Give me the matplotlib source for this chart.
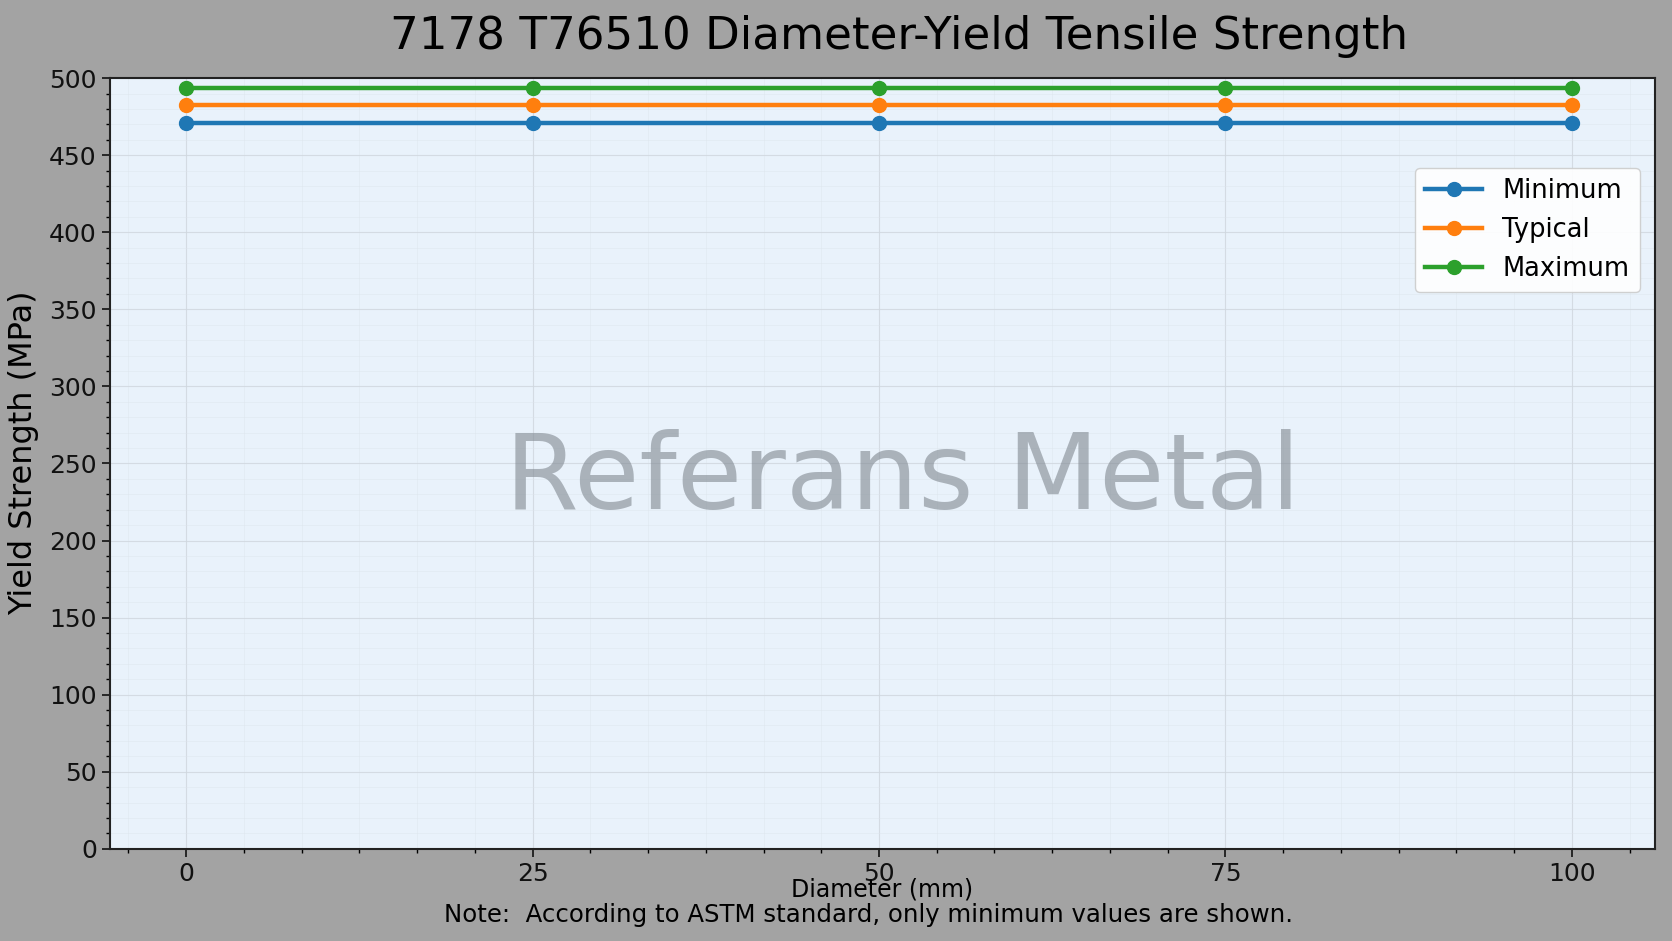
import matplotlib
matplotlib.use('Agg')
import matplotlib.pyplot as plt
from matplotlib.ticker import MultipleLocator

# Values
diameters = [0, 25, 50, 75, 100]
minimum = [471, 471, 471, 471, 471]
typical = [482.8, 482.8, 482.8, 482.8, 482.8]
maximum = [493.8, 493.8, 493.8, 493.8, 493.8]
series_names = ['Minimum', 'Typical', 'Maximum']
series_colors = ['#1f77b4', '#ff7f0e', '#2ca02c']

fig = plt.figure(figsize=(16.72, 9.41), dpi=100, facecolor='#a3a3a3')
ax = fig.add_axes([0.0658, 0.098, 0.924, 0.819])
ax.set_facecolor('#e9f2fb')

for vals, name, col in zip([minimum, typical, maximum], series_names, series_colors):
    ax.plot(diameters, vals, '-o', color=col, lw=3.2, ms=10, label=name, zorder=3)

ax.set_xlim(-5.5, 106)
ax.set_ylim(0, 500)
ax.set_xticks(diameters)
ax.xaxis.set_minor_locator(MultipleLocator(25 / 6))
ax.yaxis.set_major_locator(MultipleLocator(50))
ax.yaxis.set_minor_locator(MultipleLocator(10))

ax.grid(which='major', color='#cfd6de', lw=0.8, alpha=0.8)
ax.grid(which='minor', color='#dde4ec', lw=0.6, alpha=0.5)
ax.tick_params(which='major', labelsize=18, length=6, width=1.2, colors='#111111')
ax.tick_params(which='minor', length=3, width=1)
for s in ax.spines.values():
    s.set_linewidth(1.5)
    s.set_color('#222222')

ax.set_title('7178 T76510 Diameter-Yield Tensile Strength', fontsize=32.5, pad=21, x=0.511)
ax.set_ylabel('Yield Strength (MPa)', fontsize=23)
ax.yaxis.set_label_coords(-0.046, 0.514)
ax.set_xlabel('Diameter (mm)', fontsize=17, labelpad=-6)

# watermark
ax.text(0.513, 0.478, 'Referans Metal', transform=ax.transAxes, ha='center', va='center',
        fontsize=76.5, color='#808890', alpha=0.6, zorder=2)

ax.legend(loc='upper right', bbox_to_anchor=(0.9985, 0.9), fontsize=18.5,
          framealpha=0.9, edgecolor='#cccccc', handlelength=2.2)

fig.text(0.5195, 0.028, 'Note:  According to ASTM standard, only minimum values are shown.',
         ha='center', va='center', fontsize=17.6)

fig.savefig('out.png', dpi=100, facecolor=fig.get_facecolor())
